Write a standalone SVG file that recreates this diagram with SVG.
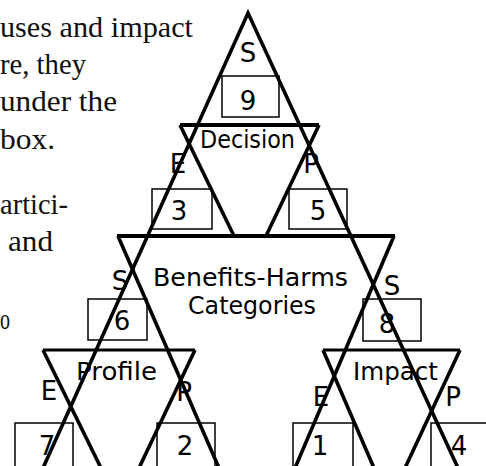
<svg xmlns="http://www.w3.org/2000/svg" width="486" height="466" viewBox="0 0 486 466">
<style>
.body{font-family:"Liberation Serif",serif;font-size:30px;fill:#111}
.lbl{font-family:"Comic Sans MS","DejaVu Sans",sans-serif;fill:#000;font-size:24px}
.ch{font-family:"Comic Sans MS","DejaVu Sans",sans-serif;fill:#000;font-size:26px;text-anchor:middle}
.box{fill:none;stroke:#000;stroke-width:1.5}
.bar{stroke:#000;stroke-width:4;stroke-linecap:butt}
.thin{stroke-width:3.2}
.ln{fill:none;stroke:#000;stroke-width:3.6;stroke-linejoin:miter;stroke-miterlimit:20}
</style>
<rect width="486" height="466" fill="#fff"/>
<g id="body-text">
<text class="body" x="0" y="37" textLength="193" lengthAdjust="spacingAndGlyphs">uses and impact</text>
<text class="body" x="0" y="74" textLength="86" lengthAdjust="spacingAndGlyphs">re, they</text>
<text class="body" x="0" y="111" textLength="117" lengthAdjust="spacingAndGlyphs">under the</text>
<text class="body" x="0" y="149" textLength="55" lengthAdjust="spacingAndGlyphs">box.</text>
<text class="body" x="0" y="214" textLength="68" lengthAdjust="spacingAndGlyphs">artici-</text>
<text class="body" x="8" y="251" textLength="45" lengthAdjust="spacingAndGlyphs">and</text>
<text class="body" x="0" y="329" textLength="10" lengthAdjust="spacingAndGlyphs">o</text>
</g>
<g id="boxes">
<g id="box-9"><rect class="box" x="222" y="76" width="57" height="41"/><text class="ch" x="248" y="110">9</text></g>
<g id="box-3"><rect class="box" x="152" y="189" width="60" height="40"/><text class="ch" x="179" y="220">3</text></g>
<g id="box-5"><rect class="box" x="289" y="189" width="58" height="40"/><text class="ch" x="318" y="220">5</text></g>
<g id="box-6"><rect class="box" x="88" y="299" width="59" height="41"/><text class="ch" x="122" y="330">6</text></g>
<g id="box-8"><rect class="box" x="363" y="299" width="58" height="42"/><text class="ch" x="387" y="333">8</text></g>
<g id="box-7"><rect class="box" x="15" y="423" width="58" height="50"/><text class="ch" x="47" y="455">7</text></g>
<g id="box-2"><rect class="box" x="157" y="423" width="58" height="50"/><text class="ch" x="185" y="455">2</text></g>
<g id="box-1"><rect class="box" x="293" y="423" width="60" height="50"/><text class="ch" x="320" y="455">1</text></g>
<g id="box-4"><rect class="box" x="431" y="423" width="70" height="50"/><text class="ch" x="459" y="455">4</text></g>
</g>
<g id="connectors">
<polyline class="ln" points="43,468 248,13 458,468"/>
<line class="ln" x1="180" y1="125" x2="234" y2="236"/>
<line class="ln" x1="319" y1="125" x2="266" y2="236"/>
<line class="ln" x1="118" y1="236" x2="219" y2="468"/>
<line class="ln" x1="394" y1="236" x2="295" y2="468"/>
<line class="ln" x1="43" y1="350" x2="101" y2="468"/>
<line class="ln" x1="195" y1="350" x2="139" y2="468"/>
<line class="ln" x1="323" y1="350" x2="374" y2="468"/>
<line class="ln" x1="460" y1="350" x2="405" y2="468"/>
</g>
<g id="edge-labels">
<text class="ch" x="248" y="62">S</text>
<text class="ch" x="178" y="173">E</text>
<text class="ch" x="311" y="173">P</text>
<text class="ch" x="120" y="290">S</text>
<text class="ch" x="392" y="295">S</text>
<text class="ch" x="49" y="400">E</text>
<text class="ch" x="184" y="401">P</text>
<text class="ch" x="321" y="406">E</text>
<text class="ch" x="453" y="406">P</text>
</g>
<g id="node-decision">
<line class="bar" x1="180" y1="125" x2="319" y2="125"/>
<text class="lbl" x="200" y="148" font-size="22" textLength="95" lengthAdjust="spacingAndGlyphs">Decision</text>
</g>
<g id="node-benefits-harms">
<line class="bar" x1="117" y1="236" x2="395" y2="236"/>
<text class="lbl" x="153" y="286" textLength="195" lengthAdjust="spacingAndGlyphs">Benefits-Harms</text>
<text class="lbl" x="188" y="314" textLength="128" lengthAdjust="spacingAndGlyphs">Categories</text>
</g>
<g id="node-profile">
<line class="bar thin" x1="43" y1="350" x2="195" y2="350"/>
<text class="lbl" x="76" y="380" textLength="81" lengthAdjust="spacingAndGlyphs">Profile</text>
</g>
<g id="node-impact">
<line class="bar thin" x1="323" y1="350" x2="460" y2="350"/>
<text class="lbl" x="353" y="380" textLength="85" lengthAdjust="spacingAndGlyphs">Impact</text>
</g>
</svg>
